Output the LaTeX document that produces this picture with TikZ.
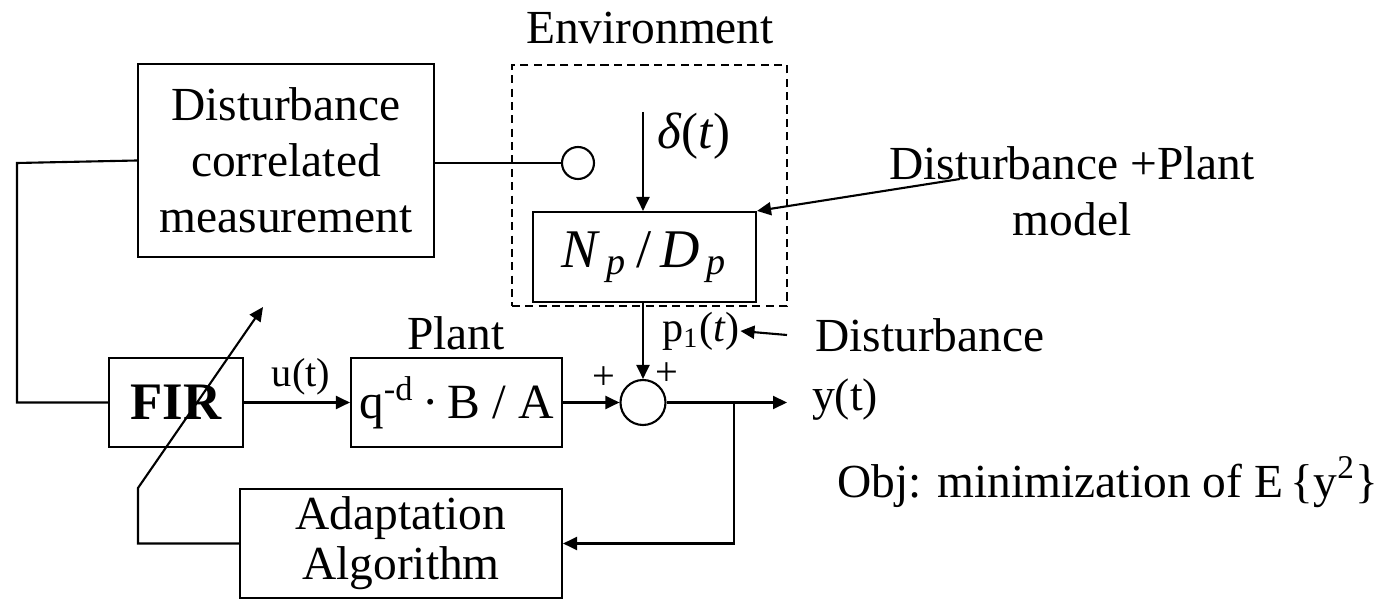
\documentclass[tikz,border=0pt]{standalone}
\usepackage{fontspec}
\setmainfont{Liberation Serif}
\usetikzlibrary{arrows.meta}

\begin{document}
\begin{tikzpicture}[>={Triangle[length=1.4mm,width=1.3mm]},
	blok/.style={rectangle, draw, semithick, inner sep=0pt, align=center, font=\fontsize{13.5}{16}\selectfont},
	lbl/.style={inner sep=0pt, font=\fontsize{13.5}{16}\selectfont},
	smalllbl/.style={inner sep=0pt, font=\fontsize{11.5}{13}\selectfont},
	wire/.style={semithick}]

	\useasboundingbox (0,0) rectangle (13.9,6);

	\node 	(dcm)		at	(2.86,4.395) 	[blok, minimum width=2.96cm, minimum height=1.93cm]{Disturbance\\correlated\\measurement};

	\node 	(env)		at	(6.495,4.145) 	[rectangle, draw, semithick, dash pattern=on 2.3pt off 1.5pt, minimum width=2.75cm, minimum height=2.41cm]{};
	\node 	(envlbl)	at	(6.50,5.72) 	[lbl]{Environment};

	\node 	(sensor)	at	(5.78,4.37) 	[circle, draw, semithick, inner sep=0pt, minimum size=0.32cm]{};

	\node 	(np)		at	(6.445,3.43) 	[blok, minimum width=2.23cm, minimum height=0.90cm, font=\fontsize{15.5}{18}\selectfont]{\textit{N}\textsubscript{\,\textit{p}}\,/\,\textit{D}\textsubscript{\,\textit{p}}};
	\coordinate	(din)	at	(6.43,4.88);
	\node 	(dlbl)		at	(6.94,4.64) 	[lbl, font=\fontsize{14.5}{16}\selectfont]{\textit{δ}(\textit{t})};

	\node 	(fir)		at	(1.76,1.975) 	[blok, minimum width=1.34cm, minimum height=0.89cm, font=\fontsize{15}{18}\bfseries]{FIR};
	\node 	(plant)		at	(4.565,1.975) 	[blok, minimum width=2.11cm, minimum height=0.89cm, font=\fontsize{14}{16}\selectfont]{q\textsuperscript{-d}\,·\,B / A};
	\node 	(plantlbl)	at	(4.56,2.67) 	[lbl]{Plant};

	\node 	(sum)		at	(6.43,1.975) 	[circle, draw, semithick, inner sep=0pt, minimum size=0.45cm]{};
	\node 	(plusl)		at	(6.04,2.22) 	[smalllbl]{+};
	\node 	(plusr)		at	(6.67,2.26) 	[smalllbl]{+};

	\node 	(ulbl)		at	(3.01,2.23) 	[smalllbl]{u(t)};
	\node 	(p1lbl)		at	(7.01,2.69) 	[lbl, font=\fontsize{12}{14}\selectfont]{p\textsubscript{1}(\textit{t})};
	\node 	(distlbl)	at	(9.30,2.65) 	[lbl]{Disturbance};
	\coordinate	(dsrc)	at	(7.87,2.65);

	\coordinate	(yout)	at	(7.87,1.975);
	\coordinate	(branch)	at	(7.34,1.975);
	\node 	(ylbl)		at	(8.45,2.00) 	[lbl, font=\fontsize{13}{15}\selectfont]{y(t)};

	\node 	(obj)		at	(11.08,1.18) 	[lbl]{Obj: minimization of E\,\{y\textsuperscript{2}\}};

	\node 	(dpm)		at	(10.72,4.085) 	[lbl, align=center]{Disturbance +Plant\\model};
	\coordinate	(dpmsrc)	at	(9.60,4.21);

	\node 	(adapt)		at	(4.01,0.565) 	[blok, minimum width=3.22cm, minimum height=1.09cm, font=\fontsize{13.5}{14.2}\selectfont]{Adaptation\\Algorithm};
	\coordinate	(akink)	at	(1.38,1.12);
	\coordinate	(atip)	at	(2.63,2.93);

	\draw[wire]	(dcm.west)	--	(0.17,4.37)	--	(0.17,1.975)	--	(fir.west);
	\draw[wire]	(dcm.east |- sensor)	--	(sensor.west);
	\draw[->, wire]	(din)	--	(din |- np.north);
	\draw[->, wire]	(fir)	--	(plant);
	\draw[->, wire]	(plant)	--	(sum);
	\draw[->, wire]	(np.south -| sum)	--	(sum.north);
	\draw[->, wire]	(sum)	--	(yout);
	\draw[->, wire]	(branch)	|-	(adapt.east);
	\draw[->, wire]	(dsrc)	--	(p1lbl.east);
	\draw[->, wire]	(dpmsrc)	--	(np.north east);
	\draw[->, wire]	(adapt.west)	-|	(akink)	--	(atip);

\end{tikzpicture}
\end{document}
